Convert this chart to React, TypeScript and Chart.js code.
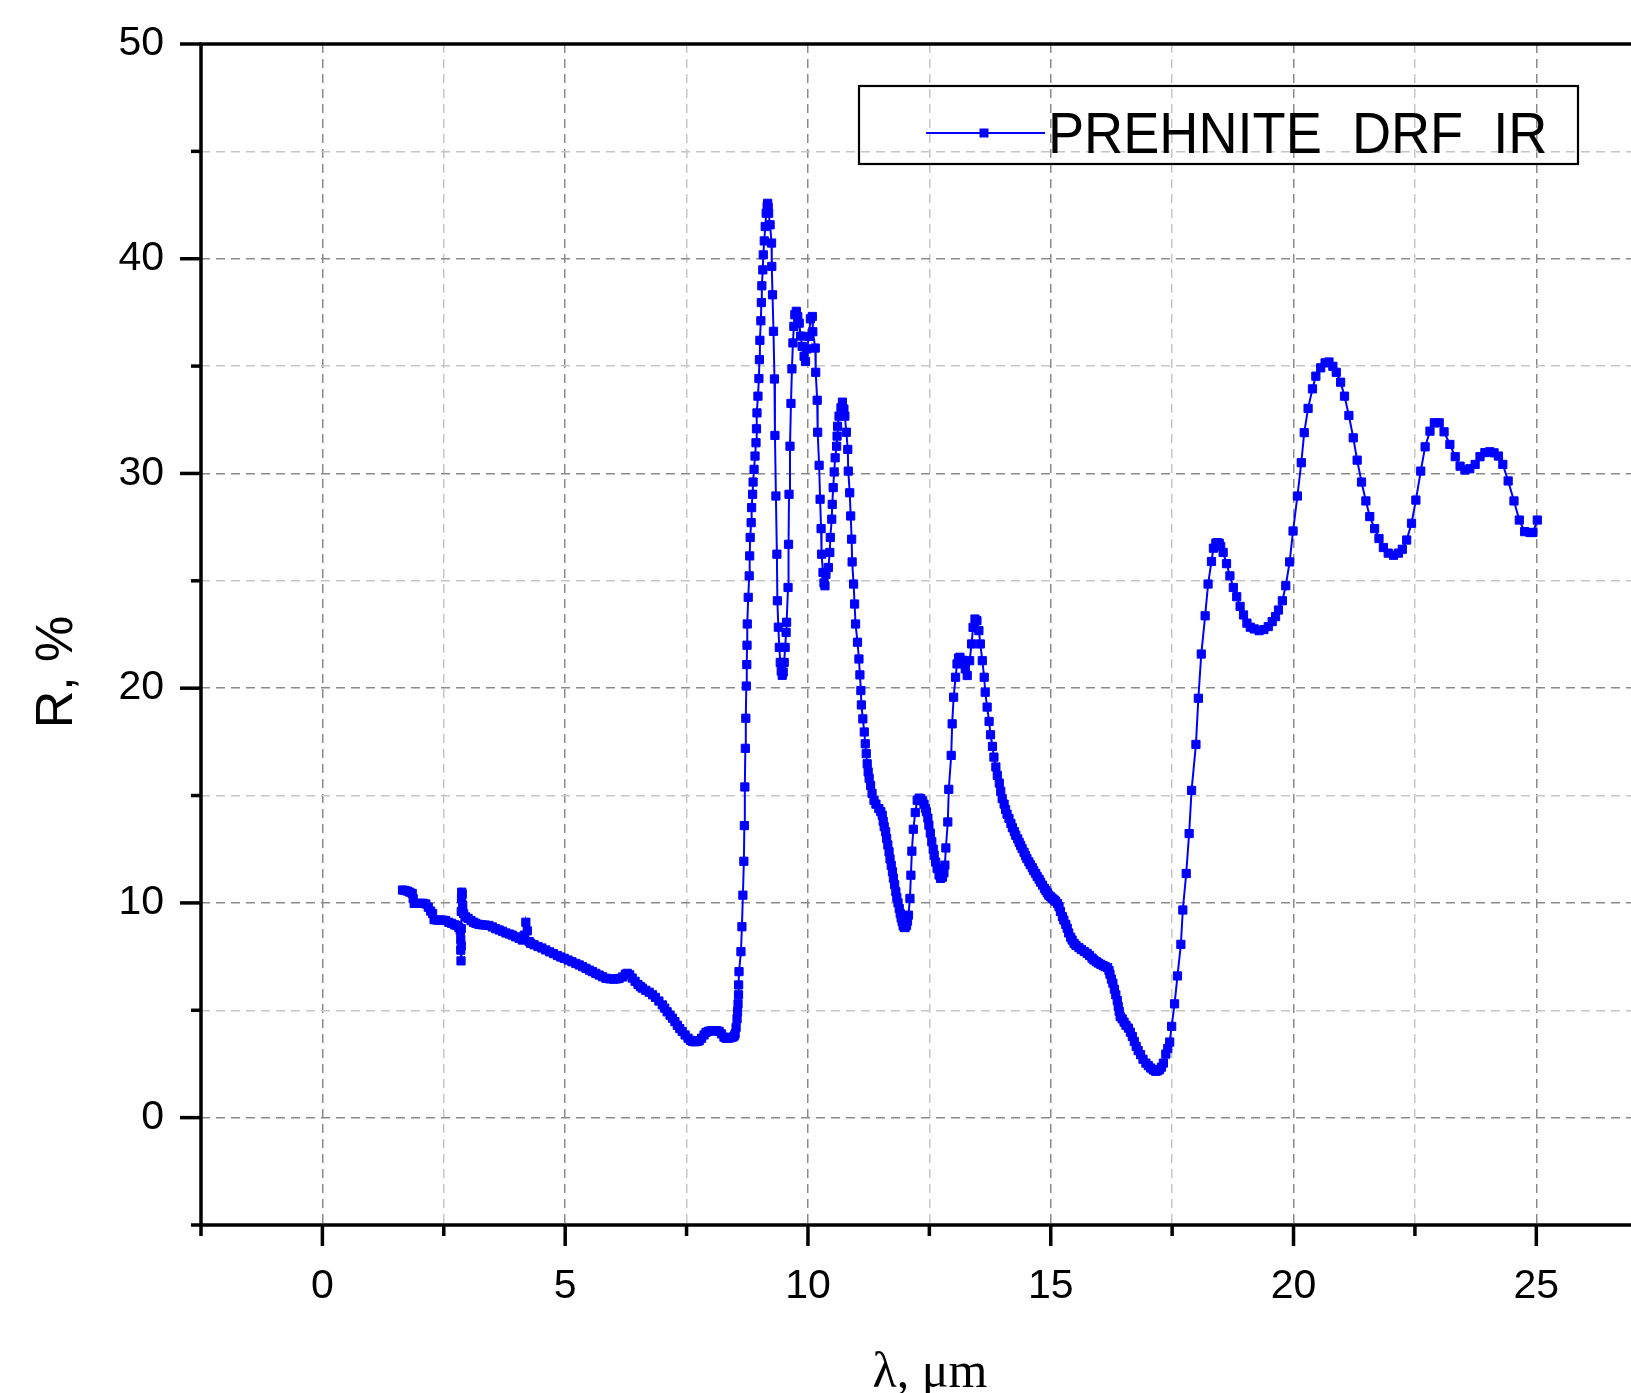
import { useEffect, useRef } from 'react';
import { Chart, registerables } from 'chart.js';

Chart.register(...registerables);

// [wavelength (µm), reflectance (%)]
const prehniteSpectrum: [number, number][] = [
  [1.65, 10.6], [1.7, 10.58], [1.75, 10.55], [1.8, 10.5], [1.85, 10.44], [1.87, 10.2], [1.89, 9.98],
  [1.95, 9.98], [2.02, 9.98], [2.08, 9.98], [2.13, 9.95], [2.18, 9.8], [2.23, 9.62], [2.27, 9.5],
  [2.3, 9.22], [2.36, 9.2], [2.42, 9.2], [2.48, 9.2], [2.54, 9.18], [2.6, 9.1], [2.66, 9.05],
  [2.72, 8.98], [2.77, 8.95], [2.81, 8.85], [2.84, 8.7], [2.85, 8.3], [2.85, 7.8], [2.855, 7.3],
  [2.86, 8.0], [2.86, 8.8], [2.86, 9.6], [2.865, 10.2], [2.87, 10.5], [2.88, 10.4], [2.89, 9.9],
  [2.91, 9.5], [2.95, 9.35], [3.0, 9.28], [3.06, 9.18], [3.11, 9.1], [3.16, 9.05], [3.22, 9.0],
  [3.28, 8.98], [3.35, 8.97], [3.43, 8.95], [3.5, 8.88], [3.57, 8.8], [3.64, 8.74], [3.71, 8.68],
  [3.78, 8.6], [3.85, 8.55], [3.91, 8.5], [3.98, 8.42], [4.05, 8.35], [4.12, 8.27], [4.16, 8.5],
  [4.19, 9.1], [4.22, 8.7], [4.26, 8.2], [4.29, 8.12], [4.36, 8.05], [4.44, 7.97], [4.52, 7.9],
  [4.6, 7.81], [4.68, 7.72], [4.76, 7.64], [4.84, 7.55], [4.91, 7.48], [4.98, 7.42], [5.06, 7.34],
  [5.14, 7.26], [5.22, 7.18], [5.29, 7.11], [5.36, 7.03], [5.43, 6.95], [5.5, 6.87], [5.56, 6.8],
  [5.63, 6.72], [5.7, 6.64], [5.77, 6.56], [5.84, 6.49], [5.92, 6.46], [6.0, 6.45], [6.06, 6.46],
  [6.11, 6.48], [6.18, 6.55], [6.24, 6.68], [6.28, 6.72], [6.33, 6.65], [6.38, 6.5], [6.44, 6.35],
  [6.5, 6.2], [6.55, 6.1], [6.59, 6.03], [6.66, 5.93], [6.73, 5.84], [6.8, 5.72], [6.86, 5.6],
  [6.93, 5.43], [7.0, 5.25], [7.05, 5.1], [7.1, 4.93], [7.16, 4.77], [7.21, 4.63], [7.26, 4.47],
  [7.31, 4.3], [7.36, 4.15], [7.41, 4.01], [7.47, 3.85], [7.53, 3.7], [7.58, 3.6], [7.62, 3.55],
  [7.67, 3.53], [7.72, 3.55], [7.76, 3.58], [7.81, 3.7], [7.86, 3.85], [7.9, 3.97], [7.95, 4.02],
  [8.0, 4.04], [8.06, 4.05], [8.12, 4.05], [8.17, 4.02], [8.22, 3.9], [8.27, 3.75], [8.31, 3.7],
  [8.36, 3.7], [8.41, 3.72], [8.45, 3.75], [8.48, 3.8], [8.5, 3.9], [8.52, 4.2], [8.54, 4.6],
  [8.55, 4.94], [8.56, 5.3], [8.57, 5.72], [8.572, 6.18], [8.58, 6.8], [8.62, 7.73], [8.64, 8.89],
  [8.66, 10.36], [8.68, 11.94], [8.69, 13.6], [8.7, 15.4], [8.71, 17.2], [8.72, 18.6], [8.73, 20.1],
  [8.74, 21.1], [8.745, 22.0], [8.75, 22.99], [8.77, 24.23], [8.79, 25.23], [8.8, 26.16], [8.81, 27.02],
  [8.83, 27.71], [8.84, 28.41], [8.86, 29.03], [8.87, 29.6], [8.89, 30.19], [8.91, 30.81], [8.93, 31.43],
  [8.94, 32.08], [8.95, 32.82], [8.97, 33.6], [8.99, 34.42], [9.0, 35.3], [9.01, 36.2], [9.03, 37.11],
  [9.04, 37.96], [9.05, 38.74], [9.07, 39.48], [9.08, 40.18], [9.1, 40.83], [9.12, 41.5], [9.14, 42.12],
  [9.16, 42.45], [9.17, 42.58], [9.18, 42.4], [9.19, 42.12], [9.22, 41.58], [9.25, 40.73], [9.255, 39.64],
  [9.27, 38.32], [9.29, 36.62], [9.31, 34.4], [9.32, 31.77], [9.34, 28.95], [9.36, 26.24], [9.37, 24.07],
  [9.39, 22.84], [9.41, 21.9], [9.43, 21.2], [9.45, 20.8], [9.47, 20.6], [9.49, 20.75], [9.51, 21.2],
  [9.53, 21.9], [9.55, 22.6], [9.56, 23.07], [9.59, 24.69], [9.6, 26.7], [9.61, 29.03], [9.63, 31.27],
  [9.65, 33.26], [9.67, 34.87], [9.69, 36.08], [9.71, 36.85], [9.73, 37.39], [9.76, 37.55], [9.79, 37.3],
  [9.82, 37.0], [9.85, 36.4], [9.88, 35.92], [9.92, 35.46], [9.95, 35.22], [9.98, 35.8], [10.02, 36.38],
  [10.05, 37.2], [10.09, 37.31], [10.1, 36.6], [10.15, 35.84], [10.16, 34.71], [10.19, 33.41], [10.2, 31.92],
  [10.23, 30.38], [10.25, 28.8], [10.27, 27.43], [10.28, 26.24], [10.31, 25.39], [10.33, 24.9], [10.35, 24.77],
  [10.37, 25.3], [10.42, 25.62], [10.45, 26.32], [10.46, 27.02], [10.49, 27.87], [10.5, 28.56], [10.52, 29.34],
  [10.54, 30.07], [10.56, 30.73], [10.59, 31.27], [10.6, 31.74], [10.61, 32.2], [10.64, 32.67], [10.68, 33.06],
  [10.71, 33.32], [10.74, 33.0], [10.76, 32.67], [10.79, 31.92], [10.82, 31.12], [10.83, 30.11], [10.86, 29.1],
  [10.88, 28.02], [10.9, 26.94], [10.91, 25.88], [10.94, 24.85], [10.96, 23.92], [10.98, 22.99], [11.02, 22.14],
  [11.05, 21.36], [11.07, 20.62], [11.09, 19.89], [11.1, 19.22], [11.13, 18.57], [11.16, 17.96], [11.18, 17.41],
  [11.2, 16.95], [11.22, 16.48], [11.24, 16.1], [11.26, 15.8], [11.29, 15.47], [11.32, 15.1], [11.36, 14.78],
  [11.4, 14.6], [11.46, 14.39], [11.5, 14.25], [11.53, 14.08], [11.55, 13.8], [11.57, 13.55], [11.6, 13.31],
  [11.62, 13.0], [11.645, 12.7], [11.67, 12.38], [11.69, 12.05], [11.715, 11.75], [11.74, 11.45], [11.76, 11.15],
  [11.785, 10.85], [11.81, 10.52], [11.83, 10.25], [11.855, 10.0], [11.88, 9.74], [11.9, 9.5], [11.92, 9.3],
  [11.94, 9.13], [11.96, 8.95], [11.98, 8.86], [12.0, 8.85], [12.03, 8.95], [12.05, 9.15], [12.07, 9.43],
  [12.1, 10.21], [12.12, 11.29], [12.14, 12.41], [12.17, 13.43], [12.21, 14.21], [12.25, 14.78], [12.29, 14.88],
  [12.32, 14.86], [12.36, 14.75], [12.39, 14.6], [12.42, 14.4], [12.44, 14.24], [12.47, 13.95], [12.49, 13.62],
  [12.52, 13.25], [12.55, 12.85], [12.58, 12.5], [12.6, 12.22], [12.63, 11.9], [12.66, 11.6], [12.7, 11.3],
  [12.73, 11.14], [12.77, 11.2], [12.8, 11.4], [12.82, 11.76], [12.84, 12.56], [12.88, 13.77], [12.9, 15.29],
  [12.95, 16.87], [12.97, 18.34], [13.0, 19.58], [13.04, 20.51], [13.07, 21.13], [13.1, 21.4], [13.13, 21.44],
  [13.18, 21.3], [13.24, 20.9], [13.28, 20.59], [13.33, 21.28], [13.37, 22.06], [13.4, 22.83], [13.44, 23.22],
  [13.48, 23.14], [13.52, 22.68], [13.55, 22.06], [13.59, 21.28], [13.63, 20.51], [13.65, 19.81], [13.69, 19.12],
  [13.73, 18.45], [13.76, 17.83], [13.8, 17.29], [13.83, 16.79], [13.87, 16.33], [13.9, 15.94], [13.94, 15.58],
  [13.97, 15.2], [14.0, 14.86], [14.04, 14.6], [14.07, 14.35], [14.1, 14.13], [14.14, 13.93], [14.18, 13.7],
  [14.21, 13.5], [14.25, 13.32], [14.28, 13.15], [14.32, 12.98], [14.35, 12.82], [14.38, 12.68], [14.41, 12.53],
  [14.45, 12.36], [14.48, 12.2], [14.51, 12.06], [14.55, 11.91], [14.58, 11.78], [14.62, 11.64], [14.65, 11.5],
  [14.69, 11.37], [14.72, 11.23], [14.76, 11.1], [14.79, 10.97], [14.83, 10.83], [14.87, 10.68], [14.9, 10.58],
  [14.93, 10.47], [14.96, 10.36], [15.0, 10.28], [15.03, 10.21], [15.07, 10.14], [15.1, 10.08], [15.14, 9.97],
  [15.17, 9.82], [15.2, 9.6], [15.24, 9.36], [15.27, 9.2], [15.31, 9.0], [15.34, 8.82], [15.37, 8.6],
  [15.41, 8.4], [15.44, 8.27], [15.48, 8.12], [15.52, 8.02], [15.58, 7.92], [15.63, 7.83], [15.69, 7.74],
  [15.75, 7.65], [15.8, 7.55], [15.85, 7.43], [15.89, 7.34], [15.94, 7.26], [15.98, 7.2], [16.03, 7.14],
  [16.08, 7.08], [16.12, 7.03], [16.17, 6.99], [16.2, 6.85], [16.22, 6.68], [16.25, 6.45], [16.28, 6.26],
  [16.31, 5.98], [16.34, 5.72], [16.37, 5.45], [16.39, 5.18], [16.41, 4.95], [16.43, 4.71], [16.47, 4.6],
  [16.51, 4.45], [16.55, 4.3], [16.6, 4.17], [16.64, 3.98], [16.68, 3.78], [16.72, 3.55], [16.76, 3.32],
  [16.8, 3.12], [16.85, 2.93], [16.9, 2.72], [16.96, 2.54], [17.01, 2.42], [17.06, 2.31], [17.11, 2.22],
  [17.16, 2.16], [17.2, 2.18], [17.24, 2.23], [17.28, 2.35], [17.32, 2.54], [17.37, 2.96], [17.41, 3.22],
  [17.45, 3.52], [17.49, 4.25], [17.55, 5.3], [17.61, 6.6], [17.68, 8.07], [17.72, 9.67], [17.79, 11.37],
  [17.85, 13.23], [17.9, 15.24], [17.99, 17.38], [18.04, 19.53], [18.1, 21.59], [18.18, 23.37], [18.24, 24.85],
  [18.31, 25.9], [18.35, 26.52], [18.4, 26.75], [18.43, 26.78], [18.47, 26.75], [18.5, 26.6], [18.55, 26.32],
  [18.62, 25.8], [18.69, 25.23], [18.76, 24.69], [18.83, 24.26], [18.9, 23.81], [18.97, 23.41], [19.04, 23.03],
  [19.11, 22.84], [19.19, 22.76], [19.29, 22.68], [19.39, 22.73], [19.48, 22.87], [19.56, 23.1], [19.63, 23.33],
  [19.69, 23.64], [19.77, 24.07], [19.84, 24.77], [19.92, 25.88], [19.99, 27.32], [20.08, 28.95], [20.16, 30.5],
  [20.22, 31.9], [20.3, 33.03], [20.39, 33.94], [20.46, 34.53], [20.56, 34.92], [20.65, 35.15], [20.73, 35.19],
  [20.81, 34.99], [20.88, 34.71], [20.97, 34.25], [21.05, 33.6], [21.14, 32.7], [21.23, 31.66], [21.31, 30.62],
  [21.4, 29.6], [21.49, 28.72], [21.57, 27.99], [21.67, 27.43], [21.76, 26.97], [21.85, 26.55], [21.95, 26.29],
  [22.06, 26.19], [22.16, 26.29], [22.24, 26.47], [22.33, 26.9], [22.43, 27.68], [22.52, 28.76], [22.62, 30.11],
  [22.71, 31.24], [22.81, 31.97], [22.9, 32.36], [23.0, 32.36], [23.1, 31.94], [23.22, 31.35], [23.33, 30.78],
  [23.43, 30.34], [23.53, 30.16], [23.63, 30.22], [23.74, 30.42], [23.84, 30.78], [23.94, 30.97], [24.04, 31.01],
  [24.13, 30.96], [24.22, 30.81], [24.31, 30.42], [24.42, 29.65], [24.54, 28.72], [24.65, 27.83], [24.76, 27.29],
  [24.87, 27.25], [24.93, 27.25], [25.02, 27.83],
];

const xGridValues = [-2.5, 0, 2.5, 5, 7.5, 10, 12.5, 15, 17.5, 20, 22.5, 25];
const xLabelValues = [0, 5, 10, 15, 20, 25];
const yGridValues = [-5, 0, 5, 10, 15, 20, 25, 30, 35, 40, 45, 50];
const yLabelValues = [0, 10, 20, 30, 40, 50];
const seriesName = 'PREHNITE  DRF  IR';
const xTitle = 'λ, μm';
const yTitle = 'R, %';

const SANS = '"Liberation Sans", Arial, Helvetica, sans-serif';
const SERIF = '"Liberation Serif", "Times New Roman", Times, serif';
const BLUE = '#0000ff';

const framePlugin = {
  id: 'originFrame',
  beforeDraw(chart: any) {
    const { ctx, width, height } = chart;
    ctx.save();
    ctx.fillStyle = '#ffffff';
    ctx.fillRect(0, 0, width, height);
    ctx.restore();
  },
  afterDraw(chart: any) {
    const { ctx, chartArea: a, scales, width } = chart;
    const xs = scales.x;
    const ys = scales.y;
    const seg = (x1: number, y1: number, x2: number, y2: number) => {
      ctx.beginPath();
      ctx.moveTo(x1, y1);
      ctx.lineTo(x2, y2);
      ctx.stroke();
    };
    ctx.save();
    ctx.strokeStyle = '#000000';
    ctx.lineWidth = 3.5;
    ctx.lineCap = 'butt';
    // axes
    seg(a.left, a.top, a.left, a.bottom);
    seg(a.left - 1.75, a.bottom, width, a.bottom);
    seg(a.left - 1.75, a.top, width, a.top);
    // y ticks
    yGridValues.forEach((v) => {
      const py = ys.getPixelForValue(v);
      const len = yLabelValues.includes(v) ? 21 : 10;
      seg(a.left - len, py, a.left, py);
    });
    // x ticks
    xGridValues.forEach((v) => {
      const px = xs.getPixelForValue(v);
      const len = xLabelValues.includes(v) ? 21 : 11;
      seg(px, a.bottom, px, a.bottom + len);
    });

    // axis titles
    ctx.fillStyle = '#000000';
    ctx.save();
    ctx.font = `52px ${SANS}`;
    ctx.textAlign = 'center';
    ctx.textBaseline = 'middle';
    ctx.translate(57.5, 672);
    ctx.rotate(-Math.PI / 2);
    ctx.fillText(yTitle, 0, 0);
    ctx.restore();

    ctx.save();
    ctx.font = `50px ${SERIF}`;
    ctx.textAlign = 'center';
    ctx.textBaseline = 'alphabetic';
    ctx.fillText(xTitle, 930, 1387);
    ctx.restore();

    // legend
    const lx = 859;
    const ly = 86;
    ctx.lineWidth = 2.2;
    ctx.strokeStyle = '#000000';
    ctx.strokeRect(lx, ly, 719, 78);
    ctx.strokeStyle = BLUE;
    ctx.lineWidth = 2;
    seg(926, 133, 1045, 133);
    ctx.fillStyle = BLUE;
    ctx.fillRect(979.5, 128.5, 9, 9);
    ctx.fillStyle = '#000000';
    ctx.save();
    ctx.font = `57px ${SANS}`;
    ctx.textAlign = 'left';
    ctx.textBaseline = 'alphabetic';
    ctx.translate(1048, 153);
    ctx.scale(0.95, 1);
    ctx.fillText(seriesName, 0, 0);
    ctx.restore();

    ctx.restore();
  },
};

export default function App() {
  const canvasRef = useRef<HTMLCanvasElement | null>(null);

  useEffect(() => {
    document.body.style.margin = '0';
    const canvas = canvasRef.current;
    if (!canvas) return;

    const chart = new Chart(canvas, {
      type: 'line',
      data: {
        datasets: [
          {
            label: seriesName,
            data: prehniteSpectrum.map(([x, y]) => ({ x, y })),
            borderColor: BLUE,
            borderWidth: 2,
            backgroundColor: BLUE,
            pointStyle: 'rect',
            pointRadius: 5.8,
            pointBorderWidth: 1,
            pointBackgroundColor: BLUE,
            pointBorderColor: BLUE,
            tension: 0,
            fill: false,
          },
        ],
      },
      options: {
        responsive: false,
        animation: false,
        layout: { autoPadding: false, padding: { top: 44, left: 0, right: 0, bottom: 0 } },
        plugins: {
          legend: { display: false },
          tooltip: { enabled: false },
        },
        scales: {
          x: {
            type: 'linear',
            min: -2.5,
            max: 26.95,
            afterBuildTicks: (s: any) => {
              s.ticks = xGridValues.map((v) => ({ value: v }));
            },
            afterFit: (s: any) => {
              s.height = 168;
              s.paddingLeft = 0;
              s.paddingRight = 0;
            },
            ticks: {
              autoSkip: false,
              maxRotation: 0,
              minRotation: 0,
              padding: 0,
              color: '#000000',
              font: { size: 41, family: SANS, lineHeight: 1 },
              callback: (v: any) => (xLabelValues.includes(Number(v)) ? String(v) : ''),
            },
            grid: {
              color: (c: any) => (xLabelValues.includes(c.tick?.value) ? '#8a8a8a' : '#c6c6c6'),
              lineWidth: 1.5,
              drawTicks: true,
              tickLength: 41,
              tickColor: 'rgba(0,0,0,0)',
            },
            border: { display: false, dash: [9, 6] },
          },
          y: {
            type: 'linear',
            min: -5,
            max: 50,
            afterBuildTicks: (s: any) => {
              s.ticks = yGridValues.map((v) => ({ value: v }));
            },
            afterFit: (s: any) => {
              s.width = 201;
              s.paddingTop = 0;
              s.paddingBottom = 0;
            },
            ticks: {
              autoSkip: false,
              padding: 0,
              color: '#000000',
              font: { size: 41, family: SANS, lineHeight: 1 },
              callback: (v: any) => (yLabelValues.includes(Number(v)) ? String(v) : ''),
            },
            grid: {
              color: (c: any) => (yLabelValues.includes(c.tick?.value) ? '#8a8a8a' : '#c6c6c6'),
              lineWidth: 1.5,
              drawTicks: true,
              tickLength: 37,
              tickColor: 'rgba(0,0,0,0)',
            },
            border: { display: false, dash: [9, 6] },
          },
        },
      } as any,
      plugins: [framePlugin],
    });

    return () => {
      chart.destroy();
    };
  }, []);

  return (
    <div style={{ position: 'absolute', left: 0, top: 0, width: 1631, height: 1393, background: '#fff' }}>
      <canvas ref={canvasRef} width={1631} height={1393} style={{ display: 'block', width: 1631, height: 1393 }} />
    </div>
  );
}
